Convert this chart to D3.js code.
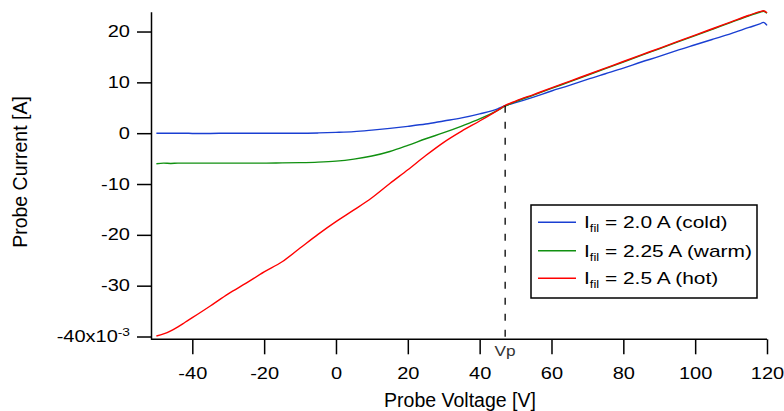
<!DOCTYPE html>
<html>
<head>
<meta charset="utf-8">
<script src="https://cdn.jsdelivr.net/npm/d3@7"></script>
<style>
  html, body { margin: 0; padding: 0; background: #fff; }
  svg { display: block; font-family: "Liberation Sans", Arial, sans-serif; }
</style>
</head>
<body>
<svg id="chart" width="784" height="411"></svg>
<script>
// ---- data ----
const voltage = [-50,-48,-46,-44,-42,-40,-35,-30,-25,-20,-15,-10,-5,0,5,10,15,20,25,30,35,40,45,47,50,55,60,65,70,75,80,85,90,95,100,105,110,115,118,119,120];
const cold = [0,0,0,0,0,-0.05,-0.05,0,0,0,0,0,0.05,0.15,0.3,0.6,0.95,1.35,1.8,2.4,3.0,3.8,4.8,5.4,6.0,7.1,8.3,9.4,10.6,11.7,12.8,14.0,15.1,16.3,17.4,18.5,19.6,20.8,21.5,21.8,21.2];
const warm = [-6.0,-5.9,-5.95,-5.9,-5.9,-5.9,-5.9,-5.9,-5.9,-5.9,-5.85,-5.8,-5.7,-5.5,-5.1,-4.5,-3.6,-2.4,-1.1,0.1,1.4,2.8,4.5,5.3,6.2,7.5,8.8,10.1,11.4,12.7,14.0,15.3,16.6,17.9,19.2,20.5,21.8,23.1,23.8,24.0,23.6];
const hot = [-39.9,-39.5,-38.9,-38.1,-37.2,-36.3,-34.0,-31.6,-29.5,-27.3,-25.3,-22.6,-19.9,-17.4,-15.1,-12.7,-9.9,-7.2,-4.4,-1.8,0.4,2.4,4.5,5.4,6.3,7.6,8.9,10.2,11.5,12.8,14.1,15.4,16.7,18.0,19.3,20.6,21.9,23.2,23.9,24.1,23.7];
const seriesNames = ["2.0 A (cold)", "2.25 A (warm)", "2.5 A (hot)"];
const seriesColors = ["#1a3fd2", "#109010", "#ff0000"];
const xTicks = [-40,-20,0,20,40,60,80,100,120];
const yTicks = [20,10,0,-10,-20,-30,-40];
const plasmaPotential = 47.1;
const plasmaCurrent = 5.4;

// ---- layout ----
const svg = d3.select("#chart");
const x = d3.scaleLinear().domain([-51.5, 120]).range([151, 767]);
const y = d3.scaleLinear().domain([-40.55, 23.9]).range([339.3, 11.7]);

const tickFont = 16, tickStretch = 1.25;
const titleFont = 19.5;
const legendFont = 17, legendStretch = 1.23;

// curves
const all = [cold, warm, hot];
const line = d3.line().x((d, i) => x(voltage[i])).y(d => y(d)).curve(d3.curveMonotoneX);
all.forEach((s, k) => {
  svg.append("path").datum(s)
    .attr("d", line)
    .attr("fill", "none")
    .attr("stroke", seriesColors[k])
    .attr("stroke-width", 1.4)
    .attr("stroke-linejoin", "round");
});

// Vp dashed line
svg.append("line")
  .attr("x1", x(plasmaPotential)).attr("x2", x(plasmaPotential))
  .attr("y1", y(plasmaCurrent)).attr("y2", y.range()[0])
  .attr("stroke", "#000").attr("stroke-width", 1.3)
  .attr("stroke-dasharray", "7,9");

// axes
const fmt = d => String(d);
const xAxis = d3.axisBottom(x).tickValues(xTicks).tickSize(15).tickSizeOuter(0).tickPadding(13).tickFormat(fmt);
const gx = svg.append("g").attr("transform", `translate(0,${y.range()[0]})`).call(xAxis);
gx.select(".domain").attr("d", `M${x.range()[0]},0H${x(120)}`);
const yAxis = d3.axisLeft(y).tickValues(yTicks).tickSize(14).tickSizeOuter(0).tickPadding(7)
  .tickFormat(d => d === -40 ? "" : fmt(d));
const gy = svg.append("g").attr("transform", `translate(${x.range()[0]},0)`).call(yAxis);
[gx, gy].forEach(g => {
  g.selectAll("line").attr("stroke", "#000").attr("stroke-width", 1.5);
  g.select(".domain").attr("stroke", "#000").attr("stroke-width", 1.5);
  g.selectAll("text").attr("fill", "#000").style("font-size", tickFont + "px")
    .style("font-family", '"Liberation Sans", Arial, sans-serif')
    .each(function() {
      const t = d3.select(this);
      const tx = +t.attr("x") || 0, ty = +t.attr("y") || 0;
      t.attr("x", 0).attr("y", 0)
        .attr("transform", `translate(${tx},${ty}) scale(${tickStretch},1)`);
    });
});

// bottom y label with exponent
const bl = gy.selectAll(".tick").filter(d => d === -40).select("text");
bl.text(null).attr("dy", "0.32em");
bl.append("tspan").text("-40x10");
bl.append("tspan").text("-3").attr("dy", "-0.6em").style("font-size", "11px");

// Vp label
svg.append("text").attr("transform", `translate(${x(plasmaPotential)},355.5) scale(1.15,1)`)
  .attr("text-anchor", "middle").style("font-size", "15px").attr("fill", "#333")
  .text("Vp");

// axis titles
svg.append("text").attr("x", 460).attr("y", 406.5).attr("text-anchor", "middle")
  .style("font-size", titleFont + "px").text("Probe Voltage [V]");
svg.append("text").attr("transform", "translate(27,172) rotate(-90)").attr("text-anchor", "middle")
  .style("font-size", titleFont + "px").text("Probe Current [A]");

// legend
const lg = svg.append("g");
lg.append("rect").attr("x", 531).attr("y", 205).attr("width", 226).attr("height", 93)
  .attr("fill", "#fff").attr("stroke", "#000").attr("stroke-width", 1.5);
const rows = [222.3, 250.7, 278.3];
seriesNames.forEach((n, k) => {
  lg.append("line").attr("x1", 538).attr("x2", 576).attr("y1", rows[k]).attr("y2", rows[k])
    .attr("stroke", seriesColors[k]).attr("stroke-width", 1.4);
  const t = lg.append("text")
    .attr("transform", `translate(584,${rows[k] + 6}) scale(${legendStretch},1)`)
    .style("font-size", legendFont + "px");
  t.append("tspan").text("I");
  t.append("tspan").text("fil").style("font-size", "10.5px").attr("dy", "4");
  t.append("tspan").text(" = " + n).attr("dy", "-4");
});
</script>
</body>
</html>
